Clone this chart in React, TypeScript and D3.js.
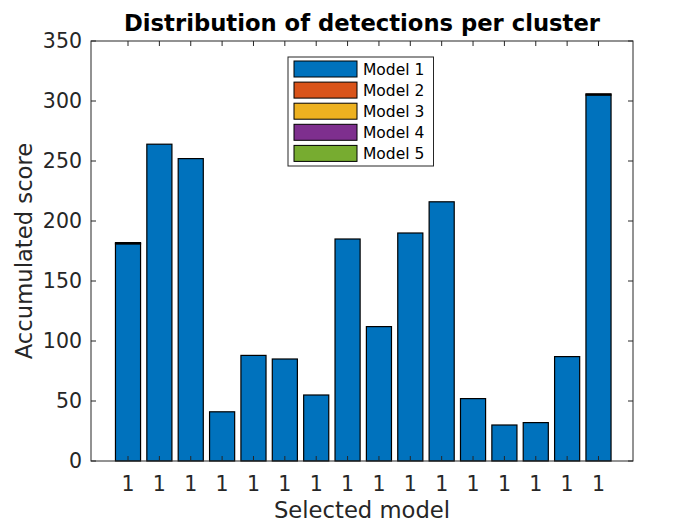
import * as d3 from 'd3'

const clusters = d3.range(1, 17)
const tickLabels = clusters.map(() => '1')
const seriesNames = ['Model 1', 'Model 2', 'Model 3', 'Model 4', 'Model 5']
const model1 = [181, 264, 252, 41, 88, 85, 55, 185, 112, 190, 216, 52, 30, 32, 87, 305]
const model2 = [1, 0, 0, 0, 0, 0, 0, 0, 0, 0, 0, 0, 0, 0, 0, 1]
const model3 = [0, 0, 0, 0, 0, 0, 0, 0, 0, 0, 0, 0, 0, 0, 0, 0]
const model4 = [0, 0, 0, 0, 0, 0, 0, 0, 0, 0, 0, 0, 0, 0, 0, 0]
const model5 = [0, 0, 0, 0, 0, 0, 0, 0, 0, 0, 0, 0, 0, 0, 0, 0]
const yTicks = [0, 50, 100, 150, 200, 250, 300, 350]

const colors = ['#0072BD', '#D95319', '#EDB120', '#7E2F8E', '#77AC30']
const font = 'DejaVu Sans, sans-serif'
const axisColor = '#262626'

export default function App() {
  const width = 700
  const height = 525
  const left = 91
  const right = 633
  const top = 41
  const bottom = 461

  const rows = clusters.map((c, i) => ({
    c,
    'Model 1': model1[i],
    'Model 2': model2[i],
    'Model 3': model3[i],
    'Model 4': model4[i],
    'Model 5': model5[i],
  }))
  const stacked = d3.stack<any>().keys(seriesNames)(rows)

  const x = d3.scaleLinear().domain([-0.18, 17.1]).range([left, right])
  const y = d3.scaleLinear().domain([0, 350]).range([bottom, top])
  const barW = (x(2) - x(1)) * 0.8

  const legendX = 288
  const legendY = 57
  const rowH = 21.1

  return (
    <svg width={width} height={height} style={{ position: 'absolute', left: 0, top: 0 }}>
      <rect width={width} height={height} fill="#fff" />
      {/* bars */}
      {stacked.map((layer, si) => (
        <g key={si}>
          {layer.map((d, i) =>
            d[1] - d[0] > 0 ? (
              <rect
                key={i}
                x={x(clusters[i]) - barW / 2}
                y={y(d[1])}
                width={barW}
                height={y(d[0]) - y(d[1])}
                fill={colors[si]}
                stroke="#000"
                strokeWidth={1.2}
              />
            ) : null
          )}
        </g>
      ))}
      {/* axes box */}
      <rect x={left} y={top} width={right - left} height={bottom - top} fill="none" stroke={axisColor} strokeWidth={1} />
      {yTicks.map(t => (
        <g key={t}>
          <line x1={left} x2={left + 5} y1={y(t)} y2={y(t)} stroke={axisColor} />
          <line x1={right} x2={right - 5} y1={y(t)} y2={y(t)} stroke={axisColor} />
          <text x={left - 9} y={y(t)} dy="0.36em" textAnchor="end" fontFamily={font} fontSize={20.5} fill={axisColor}>
            {t}
          </text>
        </g>
      ))}
      {clusters.map((c, i) => (
        <g key={c}>
          <line x1={x(c)} x2={x(c)} y1={bottom} y2={bottom - 5} stroke={axisColor} />
          <line x1={x(c)} x2={x(c)} y1={top} y2={top + 5} stroke={axisColor} />
          <text x={x(c)} y={491} textAnchor="middle" fontFamily={font} fontSize={20.5} fill={axisColor}>
            {tickLabels[i]}
          </text>
        </g>
      ))}
      {/* labels */}
      <text x={(left + right) / 2} y={31} textAnchor="middle" fontFamily={font} fontSize={22.7} fontWeight="bold" fill="#000">
        Distribution of detections per cluster
      </text>
      <text x={(left + right) / 2} y={518} textAnchor="middle" fontFamily={font} fontSize={22.7} fill={axisColor}>
        Selected model
      </text>
      <text
        transform={`translate(32,${(top + bottom) / 2}) rotate(-90)`}
        textAnchor="middle"
        fontFamily={font}
        fontSize={22.7}
        fill={axisColor}
      >
        Accumulated score
      </text>
      {/* legend */}
      <rect x={legendX} y={legendY} width={145.5} height={109} fill="#fff" stroke={axisColor} />
      {seriesNames.map((name, i) => (
        <g key={name}>
          <rect
            x={legendX + 6}
            y={legendY + 4 + i * rowH}
            width={63}
            height={16}
            fill={colors[i]}
            stroke="#000"
            strokeWidth={1}
          />
          <text x={legendX + 75} y={legendY + 12 + i * rowH} dy="0.36em" fontFamily={font} fontSize={15.5} fill="#000">
            {name}
          </text>
        </g>
      ))}
    </svg>
  )
}
